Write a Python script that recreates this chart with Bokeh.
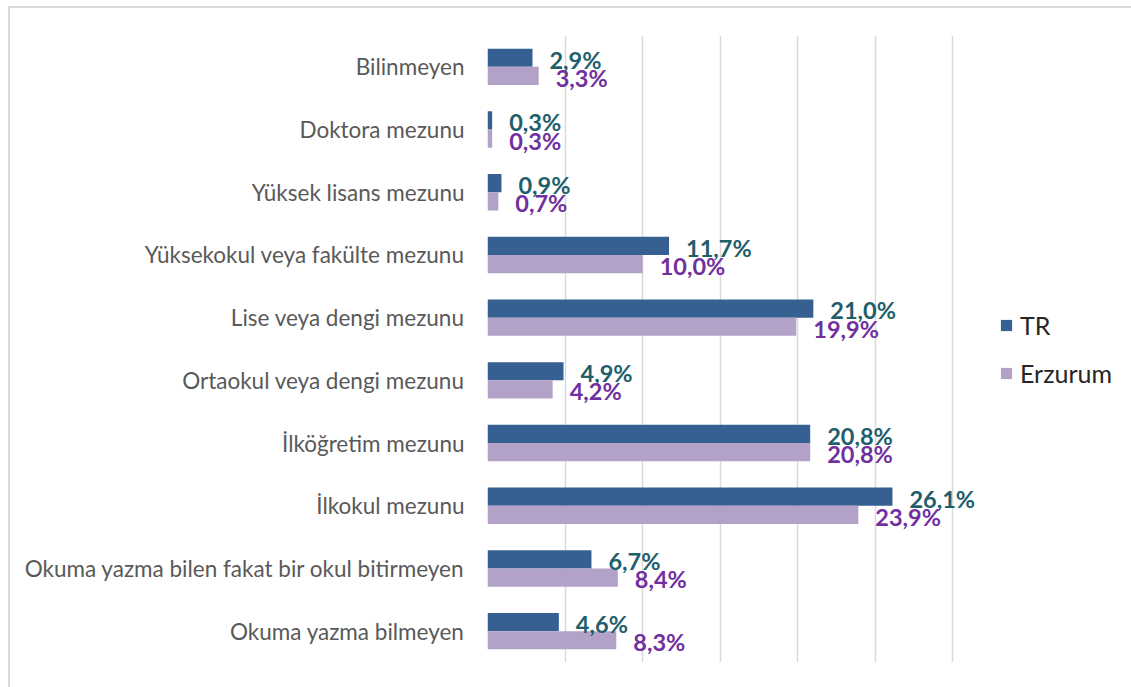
from bokeh.plotting import figure
from bokeh.models import ColumnDataSource, Range1d, FactorRange, Legend, LegendItem, FixedTicker
from bokeh.transform import dodge
from bokeh.core.properties import value
from bokeh.embed import file_html
from bokeh.resources import INLINE

categories = [
    "Okuma yazma bilmeyen",
    "Okuma yazma bilen fakat bir okul bitirmeyen",
    "İlkokul mezunu",
    "İlköğretim mezunu",
    "Ortaokul veya dengi mezunu",
    "Lise veya dengi mezunu",
    "Yüksekokul veya fakülte mezunu",
    "Yüksek lisans mezunu",
    "Doktora mezunu",
    "Bilinmeyen",
]
tr_values = [4.6, 6.7, 26.1, 20.8, 4.9, 21.0, 11.7, 0.9, 0.3, 2.9]
erzurum_values = [8.3, 8.4, 23.9, 20.8, 4.2, 19.9, 10.0, 0.7, 0.3, 3.3]
x_ticks = [0, 5, 10, 15, 20, 25, 30]

def fmt(v):
    return ("%.1f" % v).replace(".", ",") + "%"

src = ColumnDataSource(dict(
    cat=categories,
    tr=tr_values,
    erz=erzurum_values,
    tr_lbl=[fmt(v) for v in tr_values],
    erz_lbl=[fmt(v) for v in erzurum_values],
))

TR_COLOR = "#376092"
ERZ_COLOR = "#B3A2C7"
FONT = "Lato"

p = figure(
    width=1121, height=679,
    y_range=FactorRange(*categories, range_padding=0),
    x_range=Range1d(0, 33),
    frame_width=512, frame_height=627,
    min_border_left=477, min_border_right=132, min_border_top=27, min_border_bottom=25,
    output_backend="svg", toolbar_location=None,
)
p.outline_line_color = None
p.styles = {"border-left": "2px solid #d9d9d9", "border-top": "2px solid #d9d9d9",
            "margin-left": "8px", "margin-top": "6px"}

bh = 0.29
r1 = p.hbar(y=dodge("cat", bh / 2, range=p.y_range), right="tr", left=0, height=bh,
            source=src, fill_color=TR_COLOR, line_color=None)
r2 = p.hbar(y=dodge("cat", -bh / 2, range=p.y_range), right="erz", left=0, height=bh,
            source=src, fill_color=ERZ_COLOR, line_color=None)

p.text(x="tr", y=dodge("cat", bh / 2 - 0.03, range=p.y_range), text="tr_lbl", source=src,
       x_offset=17, text_baseline="middle", text_align="left",
       text_font=value(FONT), text_font_style="bold", text_font_size="23.5px", text_color="#215E6B")
p.text(x="erz", y=dodge("cat", -bh / 2 - 0.03, range=p.y_range), text="erz_lbl", source=src,
       x_offset=17, text_baseline="middle", text_align="left",
       text_font=value(FONT), text_font_style="bold", text_font_size="23.5px", text_color="#7030A0")

p.xaxis.visible = False
p.xgrid.ticker = FixedTicker(ticks=x_ticks)
p.xgrid.grid_line_color = "#d9d9d9"
p.xgrid.grid_line_width = 1.5
p.ygrid.grid_line_color = None

p.yaxis.axis_line_color = None
p.yaxis.major_tick_line_color = None
p.yaxis.minor_tick_line_color = None
p.yaxis.major_label_text_font = FONT
p.yaxis.major_label_text_font_size = "22.5px"
p.yaxis.major_label_text_color = "#595959"
p.yaxis.major_label_standoff = 17

legend = Legend(items=[LegendItem(label="TR", renderers=[r1]),
                       LegendItem(label="Erzurum", renderers=[r2])],
                location="left", orientation="vertical")
legend.border_line_color = None
legend.background_fill_alpha = 0
legend.margin = 0
legend.padding = 0
legend.glyph_width = 14
legend.glyph_height = 14
legend.label_text_font = FONT
legend.label_text_font_size = "25px"
legend.label_text_color = "#262626"
legend.label_standoff = 7
legend.spacing = 18
p.add_layout(legend, "right")

open("out.html", "w").write(file_html(p, INLINE))
